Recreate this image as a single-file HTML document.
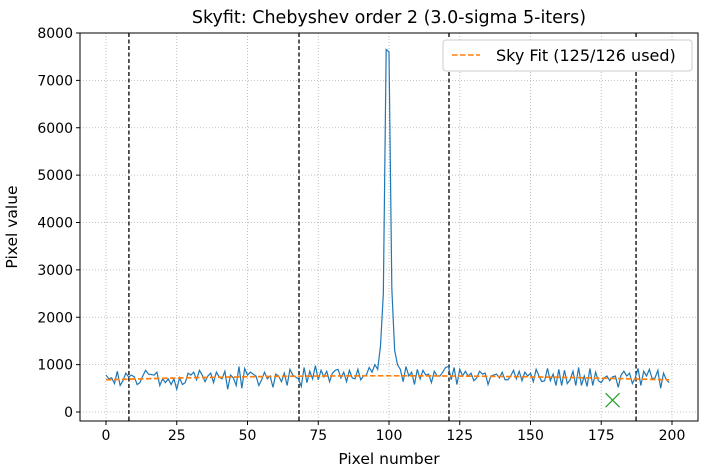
<!DOCTYPE html>
<html><head><meta charset="utf-8"><style>
body{margin:0;background:#fff;font-family:"Liberation Sans","DejaVu Sans",sans-serif}
text{font-family:"DejaVu Sans","Liberation Sans",sans-serif}
</style></head><body>
<svg id="c" width="705" height="471"></svg>
<script>
const pixelValues=[780,700,720,600,860,560,660,820,740,780,740,580,620,760,880,800,790,780,840,560,700,620,700,580,700,480,720,580,620,820,780,840,680,880,780,640,760,820,620,840,740,700,860,480,780,720,560,960,500,920,780,840,800,760,560,680,840,700,760,520,800,760,640,820,560,900,780,740,700,540,940,620,860,700,980,680,880,740,860,640,820,880,900,720,840,640,880,720,700,900,680,760,780,940,840,1000,900,1400,2500,7650,7600,2600,1300,1000,900,640,960,760,840,580,900,700,880,780,800,620,860,760,760,840,940,960,680,940,580,900,760,860,760,820,660,720,860,800,820,580,760,780,800,720,840,680,680,760,880,700,860,660,840,760,820,640,900,760,640,660,920,660,800,560,900,560,880,600,680,860,560,940,560,760,540,920,560,840,660,620,720,760,660,740,760,520,780,860,760,820,600,720,920,560,860,760,900,700,720,880,500,820,680,620,540];
pixelValues.length=200;
const fitValues=pixelValues.map((_,i)=>680+1.7*i-0.0086*i*i);
const boundaries=[8.1,68.2,121.2,187.3];
const rejectedX=[179],rejectedY=[250];
const xTicks=[0,25,50,75,100,125,150,175,200];
const yTicks=[0,1000,2000,3000,4000,5000,6000,7000,8000];
const svg=document.getElementById('c'),NS='http://www.w3.org/2000/svg';
const L=80,R=698,T=33,B=421;
const X=v=>106+v*2.83, Y=v=>412-v*0.047375;
function el(t,a,p){const e=document.createElementNS(NS,t);for(const k in a)e.setAttribute(k,a[k]);(p||svg).appendChild(e);return e;}
xTicks.forEach(t=>{
const g=el('line',{x1:X(t),x2:X(t),y1:T,y2:B,stroke:'#b0b0b0','stroke-width':0.8,'stroke-dasharray':'1,2'});


const k=el('line',{x1:X(t),x2:X(t),y1:B,y2:B+4,stroke:'#000'});


const l=el('text',{x:X(t),y:B+19,'text-anchor':'middle','font-size':14});l.textContent=t;


});
yTicks.forEach(t=>{
const g=el('line',{x1:L,x2:R,y1:Y(t),y2:Y(t),stroke:'#b0b0b0','stroke-width':0.8,'stroke-dasharray':'1,2'});


const k=el('line',{x1:L-4,x2:L,y1:Y(t),y2:Y(t),stroke:'#000'});


const l=el('text',{x:L-7,y:Y(t)+5,'text-anchor':'end','font-size':14});l.textContent=t;


});
boundaries.forEach(b=>{
const v=el('line',{x1:X(b),x2:X(b),y1:T,y2:B,stroke:'#000','stroke-width':1.3,'stroke-dasharray':'4,2.5'});


});
const d=el('polyline',{points:pixelValues.map((v,i)=>X(i)+','+Y(v)).join(' '),fill:'none',stroke:'#1f77b4','stroke-width':1.2});


const f=el('polyline',{points:fitValues.map((v,i)=>X(i)+','+Y(v)).join(' '),fill:'none',stroke:'#ff7f0e','stroke-width':1.7,'stroke-dasharray':'5.5,2.5'});


rejectedX.forEach((x,i)=>{
const cx=X(x),cy=Y(rejectedY[i]);
const m=el('path',{d:`M${cx-7},${cy-7}L${cx+7},${cy+7}M${cx-7},${cy+7}L${cx+7},${cy-7}`,stroke:'#2ca02c','stroke-width':1.3});


});
const fr=el('rect',{x:L,y:T,width:R-L,height:B-T,fill:'none',stroke:'#000','stroke-width':1});


const lg=el('g',{});


el('rect',{x:443,y:40,width:249,height:31,rx:3,fill:'#fff',stroke:'#ccc'},lg);
el('line',{x1:452,x2:480,y1:55,y2:55,stroke:'#ff7f0e','stroke-width':1.6,'stroke-dasharray':'5.5,2.5'},lg);
const lt=el('text',{x:496,y:61,'font-size':16},lg);lt.textContent='Sky Fit (125/126 used)';
const tt=el('text',{x:389,y:23,'text-anchor':'middle','font-size':17.5});tt.textContent='Skyfit: Chebyshev order 2 (3.0-sigma 5-iters)';


const xt=el('text',{x:389,y:464,'text-anchor':'middle','font-size':15.5});xt.textContent='Pixel number';


const yt=el('text',{x:17,y:227,'text-anchor':'middle','font-size':15.5,transform:'rotate(-90 17 227)'});yt.textContent='Pixel value';


</script>
</body></html>
